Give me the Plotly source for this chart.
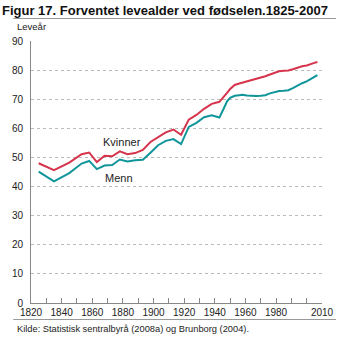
import plotly.graph_objects as go

years = [1825, 1835, 1845, 1853, 1858, 1863, 1868, 1873, 1878, 1883, 1888, 1893, 1898,
         1903, 1908, 1913, 1918, 1923, 1928, 1933, 1938, 1943, 1946, 1948, 1950, 1953,
         1956, 1958, 1961, 1964, 1967, 1970, 1973, 1976, 1979, 1982, 1985, 1988, 1991,
         1994, 1997, 2000, 2003, 2005, 2007]
kvinner = [48.0, 45.6, 48.2, 51.1, 51.7, 48.4, 50.6, 50.4, 52.1, 51.1, 51.5, 52.6, 55.3,
           57.1, 58.6, 59.6, 57.8, 63.0, 64.6, 66.7, 68.4, 69.1, 70.8, 72.2, 73.5, 74.9,
           75.4, 75.7, 76.0, 76.4, 76.9, 77.4, 77.9, 78.5, 79.1, 79.6, 79.8, 79.9, 80.3,
           80.9, 81.3, 81.6, 82.0, 82.5, 82.8]
menn = [45.1, 41.8, 44.6, 47.9, 48.8, 46.0, 47.2, 47.4, 49.3, 48.6, 49.0, 49.2, 51.6,
        54.2, 55.7, 56.3, 54.6, 60.5, 61.9, 63.8, 64.5, 63.7, 67.0, 69.3, 70.5, 71.2,
        71.4, 71.5, 71.3, 71.1, 71.1, 71.2, 71.4, 72.0, 72.4, 72.8, 72.9, 73.1, 73.8,
        74.8, 75.5, 76.1, 77.0, 77.8, 78.3]

x_tickvals = [1820, 1830, 1840, 1850, 1860, 1870, 1880, 1890, 1900, 1910, 1920, 1930,
              1940, 1950, 1960, 1970, 1980, 1990, 2000, 2010]
x_ticktext = ["1820", "", "1840", "", "1860", "", "1880", "", "1900", "", "1920", "",
              "1940", "", "1960", "", "1980", "", "", "2010"]
y_tickvals = [0, 10, 20, 30, 40, 50, 60, 70, 80, 90]

title = "Figur 17. Forventet levealder ved fødselen.1825-2007"
y_title = "Leveår"
source = "Kilde: Statistisk sentralbyrå (2008a) og Brunborg (2004)."

RED = "#d6334c"
TEAL = "#10959a"
FONT = "Liberation Sans, Arial, sans-serif"

W, H = 346, 338
L, R, T, B = 19, 15, 41, 35
pw, ph = W - L - R, H - T - B

def px_x(p):
    return (p - L) / pw

def px_y(p):
    return (H - B - p) / ph

fig = go.Figure()
fig.add_trace(go.Scatter(x=years, y=kvinner, mode="lines", name="Kvinner",
                         line=dict(color=RED, width=2), hoverinfo="skip"))
fig.add_trace(go.Scatter(x=years, y=menn, mode="lines", name="Menn",
                         line=dict(color=TEAL, width=2), hoverinfo="skip"))

fig.update_layout(
    width=W, height=H,
    margin=dict(l=L, r=R, t=T, b=B, pad=0),
    paper_bgcolor="white", plot_bgcolor="white",
    showlegend=False,
    font=dict(family=FONT, size=10, color="#222"),
    title=dict(text="<b>" + title + "</b>", xref="container", yref="container",
               x=2 / W, xanchor="left", y=1 - 10 / H, yanchor="middle",
               font=dict(size=13, color="#111", family=FONT)),
)
fig.update_xaxes(range=[1820, 2010], tickvals=x_tickvals, ticktext=x_ticktext,
                 ticks="inside", ticklen=5, tickcolor="#888", tickwidth=1,
                 showline=True, linecolor="#888", linewidth=1,
                 showgrid=False, zeroline=False,
                 tickfont=dict(size=10, color="#222"))
fig.update_yaxes(range=[0, 90], tickvals=y_tickvals, ticks="",
                 showline=True, linecolor="#888", linewidth=1,
                 showgrid=True, gridcolor="#bbb", griddash="dot", gridwidth=1,
                 zeroline=False, ticklabelstandoff=5,
                 tickfont=dict(size=10, color="#222"))

fig.add_annotation(text="Kvinner", x=1865.7, y=55.4, xref="x", yref="y",
                   xanchor="left", yanchor="middle", showarrow=False,
                   font=dict(size=11, color="#222"))
fig.add_annotation(text="Menn", x=1866.9, y=43.0, xref="x", yref="y",
                   xanchor="left", yanchor="middle", showarrow=False,
                   font=dict(size=11, color="#222"))
fig.add_annotation(text=y_title, x=px_x(2), y=px_y(26), xref="paper", yref="paper",
                   xanchor="left", yanchor="middle", showarrow=False,
                   font=dict(size=9.5, color="#222"))
fig.add_annotation(text=source, x=px_x(2), y=px_y(328.5), xref="paper", yref="paper",
                   xanchor="left", yanchor="middle", showarrow=False,
                   font=dict(size=9.3, color="#222"))

fig.add_shape(type="line", xref="paper", yref="paper",
              x0=px_x(0), x1=px_x(W), y0=px_y(18.5), y1=px_y(18.5),
              line=dict(color="#999", width=1))
fig.add_shape(type="line", xref="paper", yref="paper",
              x0=px_x(0), x1=px_x(W), y0=px_y(319.5), y1=px_y(319.5),
              line=dict(color="#999", width=1))

fig.write_html("out.html")
